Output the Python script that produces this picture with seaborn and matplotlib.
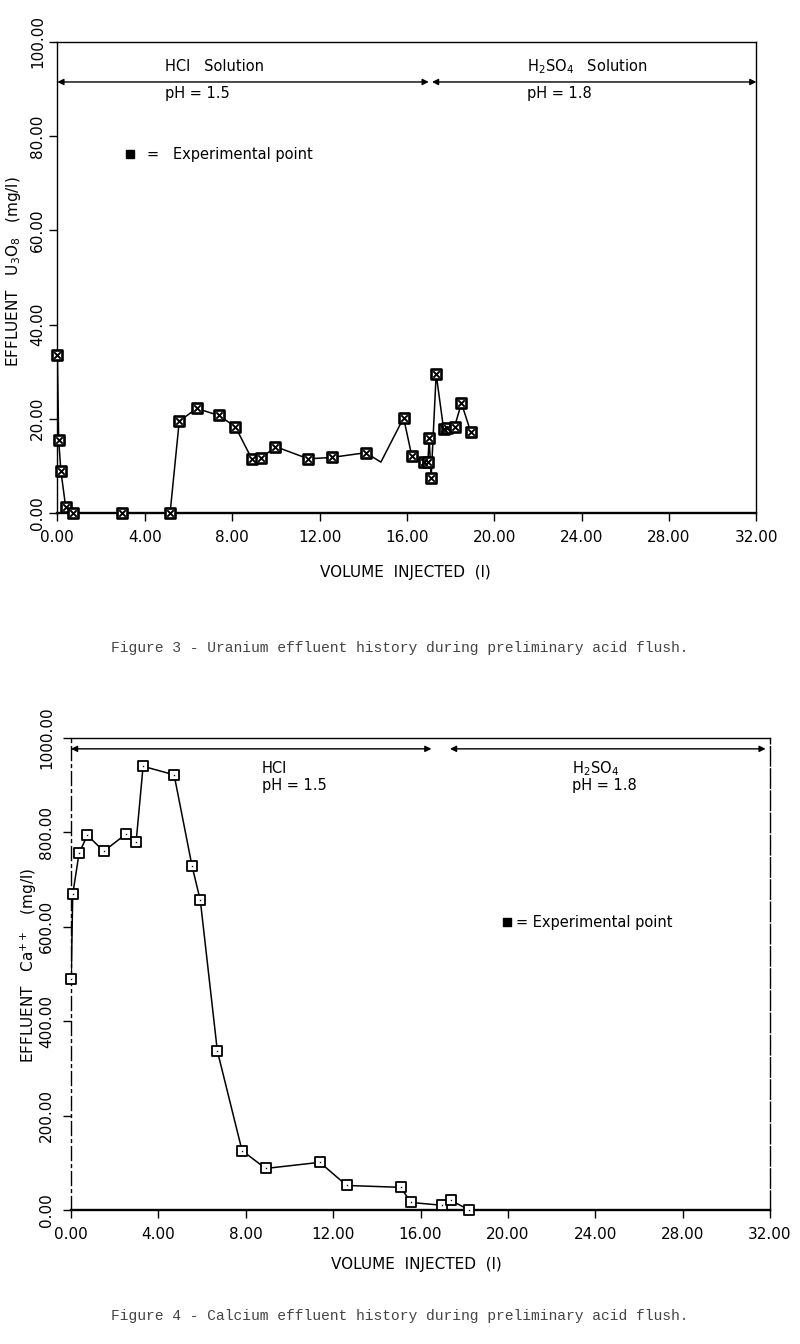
import matplotlib
matplotlib.use("Agg")
import matplotlib.pyplot as plt
import numpy as np
import pandas as pd
import seaborn as sns

# ---------------- data ----------------
# Figure 3 : uranium effluent (U3O8, mg/l) vs volume injected (l)
u_volume = [0.0, 0.06, 0.16, 0.38, 0.73, 2.97, 5.16, 5.58, 6.38, 7.40, 8.15, 8.91,
            9.33, 9.98, 11.49, 12.56, 14.12, 14.81, 15.85, 16.23, 16.79, 16.96,
            17.02, 17.11, 17.34, 17.68, 17.82, 18.18, 18.50, 18.93]
u_conc = [33.5, 15.5, 9.0, 1.3, 0.0, 0.0, 0.0, 19.5, 22.2, 20.7, 18.3, 11.4,
          11.6, 14.1, 11.5, 11.8, 12.8, 10.8, 20.2, 12.0, 10.8, 10.8,
          15.9, 7.4, 29.5, 17.9, 18.0, 18.3, 23.3, 17.1]
u_marked = [True] * 17 + [False] + [True] * 12

# Figure 4 : calcium effluent (Ca++, mg/l) vs volume injected (l)
ca_volume = [0.01, 0.08, 0.37, 0.75, 1.50, 2.53, 2.98, 3.30, 4.72, 5.54, 5.92,
             6.70, 7.83, 8.91, 11.39, 12.62, 15.10, 15.55, 17.00, 17.38, 18.22]
ca_conc = [490, 669, 756, 794, 760, 797, 779, 940, 922, 729, 656,
           337, 126, 88, 101, 52, 48, 16, 10, 21, 0]

x_ticks = [0, 4, 8, 12, 16, 20, 24, 28, 32]
x_tick_labels = ["0.00", "4.00", "8.00", "12.00", "16.00", "20.00", "24.00", "28.00", "32.00"]
u_y_ticks = [0, 20, 40, 60, 80, 100]
u_y_tick_labels = ["0.00", "20.00", "40.00", "60.00", "80.00", "100.00"]
ca_y_ticks = [0, 200, 400, 600, 800, 1000]
ca_y_tick_labels = ["0.00", "200.00", "400.00", "600.00", "800.00", "1000.00"]

# annotation positions (solution zones)
u_arrow_y = 91.5
u_hcl_span = (0.0, 17.0)
u_h2so4_span = (17.15, 32.0)
ca_arrow_y = 977
ca_hcl_span = (0.0, 16.5)
ca_h2so4_span = (17.35, 31.8)

# ---------------- style ----------------
sns.set_theme(style="white")
plt.rcParams["font.family"] = ["DejaVu Sans"]
plt.rcParams["axes.edgecolor"] = "black"
plt.rcParams["text.color"] = "black"
plt.rcParams["axes.labelcolor"] = "black"
plt.rcParams["xtick.color"] = "black"
plt.rcParams["ytick.color"] = "black"

fig = plt.figure(figsize=(8, 13.44), dpi=100)
ax1 = fig.add_axes([0.0717, 0.6183, 0.8738, 0.3505])
ax2 = fig.add_axes([0.08875, 0.0997, 0.87375, 0.3512])

u_df = pd.DataFrame({"volume": u_volume, "conc": u_conc, "marked": u_marked})
ca_df = pd.DataFrame({"volume": ca_volume, "conc": ca_conc, "marked": [True] * len(ca_volume)})


def draw(ax, df, inner, inner_size, inner_lw, edge_lw):
    sns.lineplot(data=df, x="volume", y="conc", sort=False, estimator=None,
                 color="black", linewidth=1.1, ax=ax, legend=False)
    m = df[df["marked"]]
    sns.scatterplot(data=m, x="volume", y="conc", marker="s", s=55,
                    facecolor="white", edgecolor="black", linewidth=edge_lw,
                    ax=ax, zorder=3, clip_on=False, legend=False)
    sns.scatterplot(data=m, x="volume", y="conc", marker=inner, s=inner_size,
                    color="black", linewidth=inner_lw, ax=ax, zorder=4,
                    clip_on=False, legend=False)


draw(ax1, u_df, "x", 22, 1.4, 1.9)
draw(ax2, ca_df, ".", 10, 0.5, 1.3)


def frame(ax, ylim, yticks, ylabels, pad):
    ax.set_xlim(0, 32)
    ax.set_ylim(*ylim)
    ax.set_xticks(x_ticks)
    ax.set_xticklabels(x_tick_labels, fontsize=11)
    ax.set_yticks(yticks)
    ax.set_yticklabels(ylabels, fontsize=11, rotation=90, va="center")
    ax.tick_params(axis="both", which="both", bottom=True, left=True,
                   direction="out", length=6, width=1.0, color="black",
                   labelcolor="black")
    ax.tick_params(axis="y", pad=pad)
    ax.tick_params(axis="x", pad=6)
    for s in ax.spines.values():
        s.set_visible(True)
        s.set_color("black")
        s.set_linewidth(1.0)
    ax.spines["bottom"].set_linewidth(1.7)
    ax.set_xlabel("")
    ax.set_ylabel("")


frame(ax1, (0, 100), u_y_ticks, u_y_tick_labels, 3)
frame(ax2, (0, 1000), ca_y_ticks, ca_y_tick_labels, 6)
ax2.spines["left"].set_linestyle((0, (10, 3, 2, 3)))
ax2.spines["right"].set_linestyle((0, (14, 2)))


def zone_arrow(ax, span, y):
    ax.annotate("", xy=(span[0], y), xytext=(span[1], y),
                arrowprops=dict(arrowstyle="<|-|>", color="black", lw=1.0,
                                mutation_scale=9, shrinkA=0, shrinkB=0))


zone_arrow(ax1, u_hcl_span, u_arrow_y)
zone_arrow(ax1, u_h2so4_span, u_arrow_y)
zone_arrow(ax2, ca_hcl_span, ca_arrow_y)
zone_arrow(ax2, ca_h2so4_span, ca_arrow_y)

ax1.text(0.1545, 0.947, "HCl   Solution", transform=ax1.transAxes, fontsize=10.5, va="center")
ax1.text(0.1545, 0.890, "pH = 1.5", transform=ax1.transAxes, fontsize=10.5, va="center")
ax1.text(0.672, 0.947, "H$_2$SO$_4$   Solution", transform=ax1.transAxes, fontsize=10.5, va="center")
ax1.text(0.672, 0.890, "pH = 1.8", transform=ax1.transAxes, fontsize=10.5, va="center")

ax2.text(0.273, 0.936, "HCl", transform=ax2.transAxes, fontsize=10.5, va="center")
ax2.text(0.273, 0.900, "pH = 1.5", transform=ax2.transAxes, fontsize=10.5, va="center")
ax2.text(0.717, 0.934, "H$_2$SO$_4$", transform=ax2.transAxes, fontsize=10.5, va="center")
ax2.text(0.717, 0.900, "pH = 1.8", transform=ax2.transAxes, fontsize=10.5, va="center")

# legend-like notes
ax1.scatter([0.1044], [0.762], marker="s", s=40, facecolor="black", edgecolor="black",
            transform=ax1.transAxes, clip_on=False, zorder=5)
ax1.text(0.128, 0.762, "=   Experimental point", transform=ax1.transAxes,
         fontsize=10.5, va="center")
ax2.scatter([0.624], [0.610], marker="s", s=40, facecolor="black", edgecolor="black",
            transform=ax2.transAxes, clip_on=False, zorder=5)
ax2.text(0.636, 0.610, "= Experimental point", transform=ax2.transAxes,
         fontsize=10.5, va="center")

# axis titles
fig.text(0.507, 1 - 572 / 1344, "VOLUME  INJECTED  (l)", ha="center", va="center", fontsize=11)
fig.text(0.52, 1 - 1265 / 1344, "VOLUME  INJECTED  (l)", ha="center", va="center", fontsize=11)
fig.text(14 / 800, 1 - 272 / 1344, "EFFLUENT   U$_3$O$_8$   (mg/l)", rotation=90,
         ha="center", va="center", fontsize=11)
fig.text(29 / 800, 1 - 965 / 1344, "EFFLUENT   Ca$^{++}$   (mg/l)", rotation=90,
         ha="center", va="center", fontsize=11)

# captions
fig.text(0.5, 1 - 648 / 1344, "Figure 3 - Uranium effluent history during preliminary acid flush.",
         ha="center", va="center", fontsize=10.5, family="Liberation Mono", color="#444444")
fig.text(0.5, 1 - 1316 / 1344, "Figure 4 - Calcium effluent history during preliminary acid flush.",
         ha="center", va="center", fontsize=10.5, family="Liberation Mono", color="#444444")

fig.savefig("out.png", dpi=100, facecolor="white")
